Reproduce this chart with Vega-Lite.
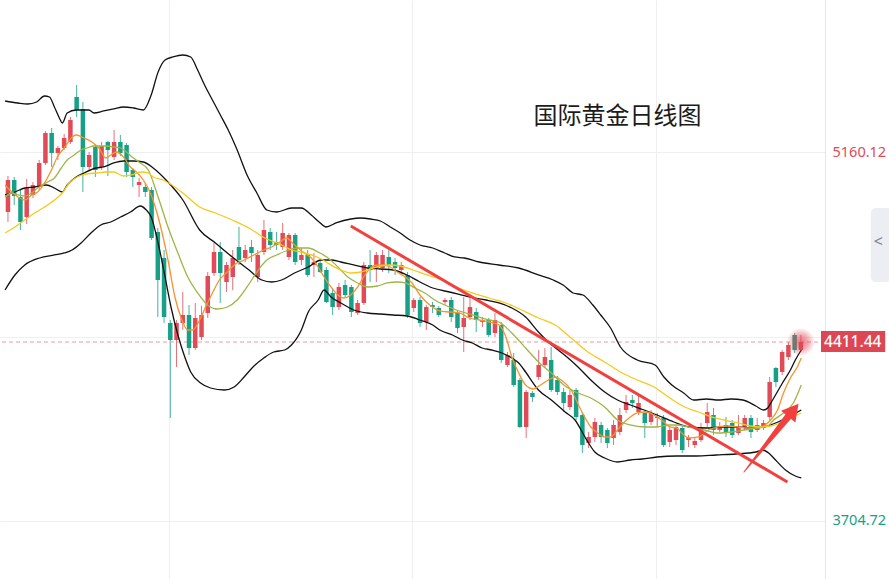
{
  "$schema": "https://vega.github.io/schema/vega-lite/v6.json",
  "width": 825,
  "height": 579,
  "autosize": {"type": "none"},
  "padding": {"left": 0, "top": 0, "right": 64, "bottom": 0},
  "background": "white",
  "config": {"view": {"stroke": null}},
  "datasets": {
    "candles": [
      {"i":0,"o":4925.0,"c":5051.4,"h":5067.2,"l":4885.5},
      {"i":1,"o":5051.4,"c":4988.2,"h":5063.3,"l":4952.7},
      {"i":2,"o":4984.3,"c":4885.5,"h":5011.9,"l":4853.9},
      {"i":3,"o":4905.3,"c":5019.8,"h":5055.4,"l":4877.6},
      {"i":4,"o":4992.2,"c":5031.7,"h":5043.5,"l":4980.3},
      {"i":5,"o":5023.8,"c":5118.6,"h":5130.4,"l":5011.9},
      {"i":6,"o":5118.6,"c":5237.1,"h":5245.0,"l":5110.7},
      {"i":7,"o":5237.1,"c":5158.1,"h":5256.8,"l":5102.8},
      {"i":8,"o":5158.1,"c":5177.8,"h":5185.7,"l":5130.4},
      {"i":9,"o":5177.8,"c":5217.3,"h":5233.1,"l":5169.9},
      {"i":10,"o":5201.5,"c":5288.4,"h":5300.3,"l":5193.6},
      {"i":11,"o":5379.3,"c":5327.9,"h":5426.7,"l":5300.3},
      {"i":12,"o":5331.9,"c":5102.8,"h":5359.5,"l":5004.0},
      {"i":13,"o":5102.8,"c":5150.2,"h":5162.0,"l":5090.9},
      {"i":14,"o":5181.8,"c":5090.9,"h":5193.6,"l":5063.3},
      {"i":15,"o":5102.8,"c":5185.7,"h":5201.5,"l":5090.9},
      {"i":16,"o":5201.5,"c":5169.9,"h":5205.5,"l":5067.2},
      {"i":17,"o":5142.3,"c":5201.5,"h":5248.9,"l":5130.4},
      {"i":18,"o":5201.5,"c":5158.1,"h":5229.2,"l":5146.2},
      {"i":19,"o":5189.7,"c":5083.0,"h":5197.6,"l":5063.3},
      {"i":20,"o":5090.9,"c":5063.3,"h":5098.8,"l":5023.8},
      {"i":21,"o":5031.7,"c":5043.5,"h":5059.3,"l":4984.3},
      {"i":22,"o":5023.8,"c":5004.0,"h":5039.6,"l":4984.3},
      {"i":23,"o":5011.9,"c":4822.3,"h":5023.8,"l":4814.4},
      {"i":24,"o":4846.0,"c":4656.4,"h":4861.8,"l":4510.3},
      {"i":25,"o":4743.3,"c":4510.3,"h":4774.9,"l":4486.6},
      {"i":26,"o":4486.6,"c":4419.4,"h":4498.4,"l":4111.3},
      {"i":27,"o":4419.4,"c":4486.6,"h":4498.4,"l":4312.8},
      {"i":28,"o":4486.6,"c":4518.2,"h":4609.0,"l":4458.9},
      {"i":29,"o":4518.2,"c":4387.8,"h":4557.7,"l":4360.2},
      {"i":30,"o":4387.8,"c":4506.3,"h":4565.6,"l":4379.9},
      {"i":31,"o":4431.3,"c":4518.2,"h":4553.7,"l":4419.4},
      {"i":32,"o":4526.1,"c":4672.2,"h":4688.0,"l":4506.3},
      {"i":33,"o":4684.1,"c":4767.0,"h":4802.6,"l":4672.2},
      {"i":34,"o":4767.0,"c":4684.1,"h":4806.5,"l":4565.6},
      {"i":35,"o":4648.5,"c":4715.7,"h":4727.5,"l":4609.0},
      {"i":36,"o":4668.3,"c":4743.3,"h":4774.9,"l":4616.9},
      {"i":37,"o":4786.8,"c":4735.4,"h":4865.8,"l":4715.7},
      {"i":38,"o":4743.3,"c":4774.9,"h":4794.7,"l":4727.5},
      {"i":39,"o":4786.8,"c":4763.1,"h":4814.4,"l":4727.5},
      {"i":40,"o":4668.3,"c":4755.2,"h":4774.9,"l":4648.5},
      {"i":41,"o":4767.0,"c":4853.9,"h":4893.4,"l":4755.2},
      {"i":42,"o":4846.0,"c":4794.7,"h":4861.8,"l":4774.9},
      {"i":43,"o":4806.5,"c":4794.7,"h":4846.0,"l":4774.9},
      {"i":44,"o":4786.8,"c":4842.1,"h":4881.6,"l":4774.9},
      {"i":45,"o":4747.3,"c":4834.2,"h":4842.1,"l":4735.4},
      {"i":46,"o":4834.2,"c":4727.5,"h":4842.1,"l":4715.7},
      {"i":47,"o":4735.4,"c":4755.2,"h":4782.8,"l":4715.7},
      {"i":48,"o":4755.2,"c":4676.2,"h":4774.9,"l":4668.3},
      {"i":49,"o":4715.7,"c":4727.5,"h":4763.1,"l":4668.3},
      {"i":50,"o":4723.6,"c":4688.0,"h":4735.4,"l":4684.1},
      {"i":51,"o":4695.9,"c":4569.5,"h":4707.8,"l":4565.6},
      {"i":52,"o":4605.1,"c":4549.8,"h":4624.8,"l":4518.2},
      {"i":53,"o":4549.8,"c":4628.8,"h":4644.6,"l":4537.9},
      {"i":54,"o":4636.7,"c":4597.2,"h":4656.4,"l":4585.3},
      {"i":55,"o":4628.8,"c":4530.0,"h":4636.7,"l":4510.3},
      {"i":56,"o":4526.1,"c":4565.6,"h":4577.4,"l":4518.2},
      {"i":57,"o":4565.6,"c":4715.7,"h":4727.5,"l":4557.7},
      {"i":58,"o":4715.7,"c":4695.9,"h":4774.9,"l":4648.5},
      {"i":59,"o":4703.8,"c":4755.2,"h":4767.0,"l":4648.5},
      {"i":60,"o":4703.8,"c":4755.2,"h":4774.9,"l":4688.0},
      {"i":61,"o":4747.3,"c":4715.7,"h":4774.9,"l":4684.1},
      {"i":62,"o":4727.5,"c":4703.8,"h":4743.3,"l":4676.2},
      {"i":63,"o":4695.9,"c":4715.7,"h":4727.5,"l":4676.2},
      {"i":64,"o":4676.2,"c":4518.2,"h":4688.0,"l":4506.3},
      {"i":65,"o":4545.8,"c":4577.4,"h":4585.3,"l":4530.0},
      {"i":66,"o":4577.4,"c":4486.6,"h":4589.3,"l":4470.8},
      {"i":67,"o":4490.5,"c":4549.8,"h":4557.7,"l":4458.9},
      {"i":68,"o":4557.7,"c":4549.8,"h":4569.5,"l":4526.1},
      {"i":69,"o":4545.8,"c":4518.2,"h":4553.7,"l":4510.3},
      {"i":70,"o":4569.5,"c":4577.4,"h":4585.3,"l":4557.7},
      {"i":71,"o":4577.4,"c":4510.3,"h":4589.3,"l":4490.5},
      {"i":72,"o":4526.1,"c":4466.8,"h":4537.9,"l":4447.1},
      {"i":73,"o":4470.8,"c":4506.3,"h":4589.3,"l":4372.0},
      {"i":74,"o":4510.3,"c":4549.8,"h":4589.3,"l":4498.4},
      {"i":75,"o":4530.0,"c":4498.4,"h":4545.8,"l":4451.0},
      {"i":76,"o":4490.5,"c":4498.4,"h":4510.3,"l":4470.8},
      {"i":77,"o":4498.4,"c":4439.2,"h":4506.3,"l":4431.3},
      {"i":78,"o":4447.1,"c":4498.4,"h":4526.1,"l":4431.3},
      {"i":79,"o":4478.7,"c":4340.4,"h":4490.5,"l":4328.6},
      {"i":80,"o":4320.7,"c":4360.2,"h":4372.0,"l":4312.8},
      {"i":81,"o":4340.4,"c":4241.7,"h":4368.1,"l":4233.8},
      {"i":82,"o":4261.4,"c":4075.8,"h":4269.3,"l":4071.8},
      {"i":83,"o":4075.8,"c":4214.0,"h":4221.9,"l":4032.3},
      {"i":84,"o":4210.1,"c":4194.3,"h":4218.0,"l":4174.5},
      {"i":85,"o":4273.3,"c":4320.7,"h":4379.9,"l":4261.4},
      {"i":86,"o":4320.7,"c":4352.3,"h":4387.8,"l":4312.8},
      {"i":87,"o":4340.4,"c":4221.9,"h":4391.8,"l":4214.0},
      {"i":88,"o":4261.4,"c":4214.0,"h":4277.2,"l":4202.2},
      {"i":89,"o":4214.0,"c":4170.6,"h":4229.8,"l":4135.0},
      {"i":90,"o":4154.8,"c":4202.2,"h":4221.9,"l":4142.9},
      {"i":91,"o":4221.9,"c":4115.3,"h":4229.8,"l":4103.4},
      {"i":92,"o":4123.2,"c":4004.7,"h":4135.0,"l":3973.1},
      {"i":93,"o":4012.6,"c":4036.3,"h":4056.0,"l":3992.8},
      {"i":94,"o":4036.3,"c":4095.5,"h":4111.3,"l":4016.5},
      {"i":95,"o":4083.7,"c":4036.3,"h":4095.5,"l":4012.6},
      {"i":96,"o":4063.9,"c":4012.6,"h":4071.8,"l":3992.8},
      {"i":97,"o":4032.3,"c":4083.7,"h":4103.4,"l":4004.7},
      {"i":98,"o":4056.0,"c":4123.2,"h":4150.8,"l":4044.2},
      {"i":99,"o":4142.9,"c":4174.5,"h":4202.2,"l":4131.1},
      {"i":100,"o":4182.4,"c":4170.6,"h":4202.2,"l":4150.8},
      {"i":101,"o":4135.0,"c":4170.6,"h":4202.2,"l":4123.2},
      {"i":102,"o":4131.1,"c":4091.6,"h":4139.0,"l":4032.3},
      {"i":103,"o":4095.5,"c":4131.1,"h":4142.9,"l":4083.7},
      {"i":104,"o":4111.3,"c":4115.3,"h":4131.1,"l":4075.8},
      {"i":105,"o":4111.3,"c":4004.7,"h":4123.2,"l":3996.8},
      {"i":106,"o":4016.5,"c":4063.9,"h":4075.8,"l":3996.8},
      {"i":107,"o":4024.4,"c":4075.8,"h":4083.7,"l":4004.7},
      {"i":108,"o":4071.8,"c":3984.9,"h":4083.7,"l":3973.1},
      {"i":109,"o":4024.4,"c":4032.3,"h":4044.2,"l":3996.8},
      {"i":110,"o":4004.7,"c":4020.5,"h":4032.3,"l":3992.8},
      {"i":111,"o":4024.4,"c":4071.8,"h":4091.6,"l":4016.5},
      {"i":112,"o":4091.6,"c":4135.0,"h":4170.6,"l":4075.8},
      {"i":113,"o":4123.2,"c":4063.9,"h":4150.8,"l":4044.2},
      {"i":114,"o":4063.9,"c":4075.8,"h":4095.5,"l":4056.0},
      {"i":115,"o":4083.7,"c":4052.1,"h":4115.3,"l":4036.3},
      {"i":116,"o":4091.6,"c":4044.2,"h":4103.4,"l":4032.3},
      {"i":117,"o":4052.1,"c":4075.8,"h":4123.2,"l":4044.2},
      {"i":118,"o":4075.8,"c":4111.3,"h":4123.2,"l":4063.9},
      {"i":119,"o":4111.3,"c":4056.0,"h":4123.2,"l":4032.3},
      {"i":120,"o":4063.9,"c":4083.7,"h":4111.3,"l":4056.0},
      {"i":121,"o":4071.8,"c":4091.6,"h":4103.4,"l":4063.9},
      {"i":122,"o":4115.3,"c":4253.5,"h":4273.3,"l":4103.4},
      {"i":123,"o":4308.8,"c":4253.5,"h":4312.8,"l":4233.8},
      {"i":124,"o":4293.0,"c":4372.0,"h":4379.9,"l":4281.2},
      {"i":125,"o":4352.3,"c":4399.7,"h":4411.5,"l":4340.4},
      {"i":126,"o":4439.2,"c":4379.9,"h":4447.1,"l":4368.1},
      {"i":127,"o":4379.9,"c":4411.44,"h":4439.2,"l":4372.0}
    ],
    "lines": [
      {"s":"up","i":-0.47,"v":5363.5},{"s":"up","i":1.58,"v":5355.6},{"s":"up","i":3.16,"v":5351.6},{"s":"up","i":4.59,"v":5359.5},{"s":"up","i":5.85,"v":5383.2},{"s":"up","i":6.65,"v":5379.3},{"s":"up","i":7.44,"v":5339.8},{"s":"up","i":8.23,"v":5296.3},{"s":"up","i":8.7,"v":5276.6},{"s":"up","i":9.49,"v":5316.1},{"s":"up","i":10.92,"v":5327.9},{"s":"up","i":12.97,"v":5327.9},{"s":"up","i":13.77,"v":5316.1},{"s":"up","i":15.35,"v":5324.0},{"s":"up","i":16.93,"v":5331.9},{"s":"up","i":18.51,"v":5339.8},{"s":"up","i":20.09,"v":5335.8},{"s":"up","i":21.68,"v":5327.9},{"s":"up","i":22.94,"v":5387.2},{"s":"up","i":24.05,"v":5478.0},{"s":"up","i":25.16,"v":5525.4},{"s":"up","i":26.42,"v":5537.3},{"s":"up","i":28.01,"v":5545.2},{"s":"up","i":29.27,"v":5537.3},{"s":"up","i":30.38,"v":5485.9},{"s":"up","i":31.49,"v":5426.7},{"s":"up","i":32.75,"v":5367.4},{"s":"up","i":34.02,"v":5308.2},{"s":"up","i":35.28,"v":5248.9},{"s":"up","i":36.71,"v":5169.9},{"s":"up","i":38.29,"v":5071.2},{"s":"up","i":39.87,"v":5000.1},{"s":"up","i":41.46,"v":4932.9},{"s":"up","i":43.04,"v":4925.0},{"s":"up","i":45.41,"v":4940.8},{"s":"up","i":46.99,"v":4940.8},{"s":"up","i":48.58,"v":4913.2},{"s":"up","i":49.84,"v":4885.5},{"s":"up","i":50.95,"v":4865.8},{"s":"up","i":52.53,"v":4881.6},{"s":"up","i":54.91,"v":4897.4},{"s":"up","i":56.49,"v":4901.3},{"s":"up","i":58.07,"v":4897.4},{"s":"up","i":59.65,"v":4889.5},{"s":"up","i":61.23,"v":4865.8},{"s":"up","i":62.82,"v":4842.1},{"s":"up","i":64.4,"v":4814.4},{"s":"up","i":65.98,"v":4794.7},{"s":"up","i":68.04,"v":4782.8},{"s":"up","i":69.94,"v":4763.1},{"s":"up","i":71.52,"v":4747.3},{"s":"up","i":73.1,"v":4743.3},{"s":"up","i":75.47,"v":4727.5},{"s":"up","i":78.64,"v":4715.7},{"s":"up","i":81.8,"v":4703.8},{"s":"up","i":84.97,"v":4676.2},{"s":"up","i":87.34,"v":4656.4},{"s":"up","i":88.92,"v":4636.7},{"s":"up","i":90.51,"v":4605.1},{"s":"up","i":92.09,"v":4597.2},{"s":"up","i":93.67,"v":4557.7},{"s":"up","i":94.94,"v":4518.2},{"s":"up","i":96.52,"v":4466.8},{"s":"up","i":98.1,"v":4391.8},{"s":"up","i":100.79,"v":4340.4},{"s":"up","i":103.64,"v":4320.7},{"s":"up","i":105.06,"v":4273.3},{"s":"up","i":106.33,"v":4241.7},{"s":"up","i":108.23,"v":4210.1},{"s":"up","i":109.81,"v":4182.4},{"s":"up","i":111.87,"v":4186.4},{"s":"up","i":113.77,"v":4182.4},{"s":"up","i":115.82,"v":4186.4},{"s":"up","i":117.72,"v":4182.4},{"s":"up","i":119.78,"v":4158.7},{"s":"up","i":121.04,"v":4142.9},{"s":"up","i":121.68,"v":4150.8},{"s":"up","i":122.47,"v":4182.4},{"s":"up","i":124.05,"v":4249.6},{"s":"up","i":125.32,"v":4300.9},{"s":"up","i":126.11,"v":4340.4},{"s":"up","i":127.06,"v":4379.9},
      {"s":"mid","i":-0.47,"v":4992.2},{"s":"mid","i":1.11,"v":5004.0},{"s":"mid","i":2.69,"v":5019.8},{"s":"mid","i":4.27,"v":5023.8},{"s":"mid","i":6.17,"v":5031.7},{"s":"mid","i":7.44,"v":5019.8},{"s":"mid","i":8.7,"v":5004.0},{"s":"mid","i":9.49,"v":5031.7},{"s":"mid","i":10.92,"v":5063.3},{"s":"mid","i":12.18,"v":5079.1},{"s":"mid","i":14.08,"v":5098.8},{"s":"mid","i":15.35,"v":5102.8},{"s":"mid","i":16.93,"v":5118.6},{"s":"mid","i":18.51,"v":5126.5},{"s":"mid","i":20.09,"v":5126.5},{"s":"mid","i":21.68,"v":5122.5},{"s":"mid","i":23.26,"v":5098.8},{"s":"mid","i":25.32,"v":5051.4},{"s":"mid","i":28.01,"v":4972.4},{"s":"mid","i":30.7,"v":4853.9},{"s":"mid","i":33.23,"v":4802.6},{"s":"mid","i":35.92,"v":4747.3},{"s":"mid","i":38.61,"v":4695.9},{"s":"mid","i":40.66,"v":4656.4},{"s":"mid","i":42.25,"v":4648.5},{"s":"mid","i":43.83,"v":4656.4},{"s":"mid","i":45.89,"v":4684.1},{"s":"mid","i":48.1,"v":4707.8},{"s":"mid","i":50.16,"v":4735.4},{"s":"mid","i":51.74,"v":4735.4},{"s":"mid","i":53.32,"v":4727.5},{"s":"mid","i":55.38,"v":4715.7},{"s":"mid","i":57.59,"v":4703.8},{"s":"mid","i":59.65,"v":4699.9},{"s":"mid","i":61.71,"v":4695.9},{"s":"mid","i":63.92,"v":4676.2},{"s":"mid","i":65.98,"v":4648.5},{"s":"mid","i":68.04,"v":4624.8},{"s":"mid","i":70.73,"v":4609.0},{"s":"mid","i":73.89,"v":4589.3},{"s":"mid","i":76.58,"v":4577.4},{"s":"mid","i":78.64,"v":4565.6},{"s":"mid","i":80.7,"v":4545.8},{"s":"mid","i":82.91,"v":4510.3},{"s":"mid","i":84.97,"v":4451.0},{"s":"mid","i":86.55,"v":4411.5},{"s":"mid","i":88.13,"v":4379.9},{"s":"mid","i":89.72,"v":4348.3},{"s":"mid","i":91.3,"v":4312.8},{"s":"mid","i":93.35,"v":4261.4},{"s":"mid","i":95.57,"v":4214.0},{"s":"mid","i":97.63,"v":4182.4},{"s":"mid","i":99.68,"v":4162.7},{"s":"mid","i":101.9,"v":4142.9},{"s":"mid","i":103.96,"v":4123.2},{"s":"mid","i":106.65,"v":4095.5},{"s":"mid","i":109.18,"v":4075.8},{"s":"mid","i":111.87,"v":4071.8},{"s":"mid","i":114.56,"v":4075.8},{"s":"mid","i":116.93,"v":4075.8},{"s":"mid","i":118.99,"v":4071.8},{"s":"mid","i":121.04,"v":4075.8},{"s":"mid","i":122.94,"v":4091.6},{"s":"mid","i":125.0,"v":4115.3},{"s":"mid","i":127.06,"v":4142.9},
      {"s":"low","i":-0.47,"v":4616.9},{"s":"low","i":1.11,"v":4676.2},{"s":"low","i":2.69,"v":4715.7},{"s":"low","i":5.06,"v":4743.3},{"s":"low","i":7.44,"v":4755.2},{"s":"low","i":9.02,"v":4763.1},{"s":"low","i":10.28,"v":4774.9},{"s":"low","i":11.71,"v":4802.6},{"s":"low","i":13.29,"v":4842.1},{"s":"low","i":14.87,"v":4873.7},{"s":"low","i":16.46,"v":4885.5},{"s":"low","i":18.04,"v":4905.3},{"s":"low","i":19.62,"v":4925.0},{"s":"low","i":21.2,"v":4948.7},{"s":"low","i":22.15,"v":4932.9},{"s":"low","i":22.94,"v":4905.3},{"s":"low","i":24.05,"v":4802.6},{"s":"low","i":25.16,"v":4668.3},{"s":"low","i":26.11,"v":4549.8},{"s":"low","i":27.22,"v":4439.2},{"s":"low","i":28.32,"v":4352.3},{"s":"low","i":29.27,"v":4293.0},{"s":"low","i":30.85,"v":4249.6},{"s":"low","i":32.44,"v":4229.8},{"s":"low","i":34.65,"v":4221.9},{"s":"low","i":36.23,"v":4233.8},{"s":"low","i":37.82,"v":4273.3},{"s":"low","i":39.4,"v":4316.7},{"s":"low","i":40.98,"v":4348.3},{"s":"low","i":42.56,"v":4372.0},{"s":"low","i":44.3,"v":4379.9},{"s":"low","i":45.41,"v":4399.7},{"s":"low","i":46.99,"v":4458.9},{"s":"low","i":48.1,"v":4530.0},{"s":"low","i":49.68,"v":4577.4},{"s":"low","i":50.63,"v":4616.9},{"s":"low","i":51.74,"v":4589.3},{"s":"low","i":53.32,"v":4565.6},{"s":"low","i":55.38,"v":4537.9},{"s":"low","i":57.59,"v":4526.1},{"s":"low","i":59.65,"v":4522.1},{"s":"low","i":61.71,"v":4518.2},{"s":"low","i":63.92,"v":4514.2},{"s":"low","i":65.98,"v":4498.4},{"s":"low","i":68.04,"v":4478.7},{"s":"low","i":69.15,"v":4458.9},{"s":"low","i":71.2,"v":4439.2},{"s":"low","i":72.78,"v":4419.4},{"s":"low","i":74.37,"v":4407.6},{"s":"low","i":75.95,"v":4387.8},{"s":"low","i":77.53,"v":4379.9},{"s":"low","i":79.11,"v":4368.1},{"s":"low","i":80.7,"v":4348.3},{"s":"low","i":81.8,"v":4328.6},{"s":"low","i":82.91,"v":4293.0},{"s":"low","i":84.97,"v":4221.9},{"s":"low","i":87.03,"v":4182.4},{"s":"low","i":89.24,"v":4135.0},{"s":"low","i":90.82,"v":4103.4},{"s":"low","i":92.41,"v":4036.3},{"s":"low","i":93.99,"v":3977.0},{"s":"low","i":95.57,"v":3953.3},{"s":"low","i":97.63,"v":3937.5},{"s":"low","i":99.68,"v":3945.4},{"s":"low","i":101.58,"v":3949.4},{"s":"low","i":103.96,"v":3957.3},{"s":"low","i":107.12,"v":3961.2},{"s":"low","i":110.28,"v":3961.2},{"s":"low","i":113.45,"v":3965.2},{"s":"low","i":116.61,"v":3969.1},{"s":"low","i":119.78,"v":3977.0},{"s":"low","i":120.89,"v":3984.9},{"s":"low","i":121.84,"v":3973.1},{"s":"low","i":122.94,"v":3945.4},{"s":"low","i":124.53,"v":3905.9},{"s":"low","i":126.11,"v":3882.2},{"s":"low","i":127.06,"v":3874.3},
      {"s":"ma5","i":-0.47,"v":5031.7},{"s":"ma5","i":0.63,"v":5004.0},{"s":"ma5","i":1.58,"v":4984.3},{"s":"ma5","i":2.69,"v":4972.4},{"s":"ma5","i":3.8,"v":4992.2},{"s":"ma5","i":4.75,"v":5004.0},{"s":"ma5","i":5.85,"v":5039.6},{"s":"ma5","i":6.96,"v":5090.9},{"s":"ma5","i":7.91,"v":5142.3},{"s":"ma5","i":9.02,"v":5177.8},{"s":"ma5","i":10.28,"v":5221.2},{"s":"ma5","i":10.92,"v":5229.2},{"s":"ma5","i":12.18,"v":5217.3},{"s":"ma5","i":13.45,"v":5201.5},{"s":"ma5","i":14.56,"v":5177.8},{"s":"ma5","i":15.66,"v":5138.3},{"s":"ma5","i":16.46,"v":5150.2},{"s":"ma5","i":17.41,"v":5162.0},{"s":"ma5","i":18.51,"v":5142.3},{"s":"ma5","i":19.62,"v":5102.8},{"s":"ma5","i":20.57,"v":5083.0},{"s":"ma5","i":21.68,"v":5051.4},{"s":"ma5","i":22.94,"v":4992.2},{"s":"ma5","i":24.05,"v":4905.3},{"s":"ma5","i":25.63,"v":4735.4},{"s":"ma5","i":26.74,"v":4589.3},{"s":"ma5","i":27.69,"v":4510.3},{"s":"ma5","i":28.8,"v":4458.9},{"s":"ma5","i":29.59,"v":4458.9},{"s":"ma5","i":30.7,"v":4498.4},{"s":"ma5","i":31.65,"v":4549.8},{"s":"ma5","i":32.75,"v":4605.1},{"s":"ma5","i":33.86,"v":4656.4},{"s":"ma5","i":35.13,"v":4688.0},{"s":"ma5","i":36.23,"v":4715.7},{"s":"ma5","i":37.82,"v":4735.4},{"s":"ma5","i":39.4,"v":4755.2},{"s":"ma5","i":40.98,"v":4774.9},{"s":"ma5","i":42.25,"v":4786.8},{"s":"ma5","i":43.35,"v":4802.6},{"s":"ma5","i":44.62,"v":4822.3},{"s":"ma5","i":45.89,"v":4794.7},{"s":"ma5","i":47.47,"v":4763.1},{"s":"ma5","i":48.58,"v":4743.3},{"s":"ma5","i":49.68,"v":4707.8},{"s":"ma5","i":50.63,"v":4668.3},{"s":"ma5","i":51.74,"v":4628.8},{"s":"ma5","i":52.85,"v":4597.2},{"s":"ma5","i":53.8,"v":4585.3},{"s":"ma5","i":54.91,"v":4597.2},{"s":"ma5","i":56.01,"v":4628.8},{"s":"ma5","i":56.96,"v":4668.3},{"s":"ma5","i":58.07,"v":4703.8},{"s":"ma5","i":59.18,"v":4715.7},{"s":"ma5","i":60.13,"v":4715.7},{"s":"ma5","i":61.23,"v":4707.8},{"s":"ma5","i":62.34,"v":4688.0},{"s":"ma5","i":63.61,"v":4668.3},{"s":"ma5","i":64.72,"v":4644.6},{"s":"ma5","i":65.98,"v":4597.2},{"s":"ma5","i":67.56,"v":4557.7},{"s":"ma5","i":69.15,"v":4534.0},{"s":"ma5","i":70.73,"v":4530.0},{"s":"ma5","i":72.31,"v":4526.1},{"s":"ma5","i":73.89,"v":4506.3},{"s":"ma5","i":75.47,"v":4498.4},{"s":"ma5","i":77.06,"v":4490.5},{"s":"ma5","i":78.64,"v":4478.7},{"s":"ma5","i":79.75,"v":4431.3},{"s":"ma5","i":80.7,"v":4352.3},{"s":"ma5","i":81.8,"v":4289.1},{"s":"ma5","i":82.91,"v":4241.7},{"s":"ma5","i":84.18,"v":4225.9},{"s":"ma5","i":85.28,"v":4241.7},{"s":"ma5","i":86.55,"v":4261.4},{"s":"ma5","i":87.66,"v":4273.3},{"s":"ma5","i":88.61,"v":4261.4},{"s":"ma5","i":90.19,"v":4221.9},{"s":"ma5","i":91.77,"v":4142.9},{"s":"ma5","i":93.35,"v":4075.8},{"s":"ma5","i":94.46,"v":4052.1},{"s":"ma5","i":95.57,"v":4036.3},{"s":"ma5","i":96.52,"v":4036.3},{"s":"ma5","i":97.63,"v":4063.9},{"s":"ma5","i":98.73,"v":4095.5},{"s":"ma5","i":99.68,"v":4115.3},{"s":"ma5","i":100.79,"v":4131.1},{"s":"ma5","i":101.9,"v":4135.0},{"s":"ma5","i":102.85,"v":4131.1},{"s":"ma5","i":103.96,"v":4115.3},{"s":"ma5","i":105.06,"v":4095.5},{"s":"ma5","i":106.01,"v":4075.8},{"s":"ma5","i":107.12,"v":4071.8},{"s":"ma5","i":107.91,"v":4052.1},{"s":"ma5","i":109.02,"v":4032.3},{"s":"ma5","i":110.6,"v":4036.3},{"s":"ma5","i":112.18,"v":4063.9},{"s":"ma5","i":113.77,"v":4075.8},{"s":"ma5","i":115.35,"v":4079.7},{"s":"ma5","i":116.93,"v":4075.8},{"s":"ma5","i":118.51,"v":4071.8},{"s":"ma5","i":120.09,"v":4071.8},{"s":"ma5","i":121.04,"v":4079.7},{"s":"ma5","i":122.15,"v":4103.4},{"s":"ma5","i":123.26,"v":4142.9},{"s":"ma5","i":124.21,"v":4210.1},{"s":"ma5","i":125.32,"v":4269.3},{"s":"ma5","i":126.42,"v":4312.8},{"s":"ma5","i":127.06,"v":4348.3},
      {"s":"ma10","i":-0.47,"v":4984.3},{"s":"ma10","i":0.63,"v":5000.1},{"s":"ma10","i":1.58,"v":4992.2},{"s":"ma10","i":2.69,"v":4988.2},{"s":"ma10","i":3.8,"v":5000.1},{"s":"ma10","i":4.75,"v":5019.8},{"s":"ma10","i":6.33,"v":5043.5},{"s":"ma10","i":7.44,"v":5059.3},{"s":"ma10","i":8.54,"v":5098.8},{"s":"ma10","i":9.49,"v":5130.4},{"s":"ma10","i":10.6,"v":5150.2},{"s":"ma10","i":11.71,"v":5169.9},{"s":"ma10","i":12.66,"v":5177.8},{"s":"ma10","i":13.77,"v":5185.7},{"s":"ma10","i":15.82,"v":5185.7},{"s":"ma10","i":16.93,"v":5181.8},{"s":"ma10","i":18.04,"v":5177.8},{"s":"ma10","i":18.99,"v":5162.0},{"s":"ma10","i":20.09,"v":5138.3},{"s":"ma10","i":21.2,"v":5118.6},{"s":"ma10","i":22.47,"v":5090.9},{"s":"ma10","i":24.05,"v":4984.3},{"s":"ma10","i":25.63,"v":4865.8},{"s":"ma10","i":27.22,"v":4763.1},{"s":"ma10","i":28.8,"v":4668.3},{"s":"ma10","i":30.38,"v":4605.1},{"s":"ma10","i":31.96,"v":4557.7},{"s":"ma10","i":33.54,"v":4541.9},{"s":"ma10","i":35.13,"v":4549.8},{"s":"ma10","i":36.71,"v":4577.4},{"s":"ma10","i":38.29,"v":4628.8},{"s":"ma10","i":39.87,"v":4688.0},{"s":"ma10","i":41.46,"v":4735.4},{"s":"ma10","i":43.04,"v":4755.2},{"s":"ma10","i":44.94,"v":4774.9},{"s":"ma10","i":46.52,"v":4782.8},{"s":"ma10","i":48.1,"v":4782.8},{"s":"ma10","i":49.68,"v":4767.0},{"s":"ma10","i":51.27,"v":4743.3},{"s":"ma10","i":52.85,"v":4707.8},{"s":"ma10","i":54.43,"v":4668.3},{"s":"ma10","i":56.01,"v":4644.6},{"s":"ma10","i":57.59,"v":4628.8},{"s":"ma10","i":59.18,"v":4632.7},{"s":"ma10","i":60.76,"v":4644.6},{"s":"ma10","i":62.34,"v":4648.5},{"s":"ma10","i":63.61,"v":4644.6},{"s":"ma10","i":65.19,"v":4624.8},{"s":"ma10","i":66.77,"v":4605.1},{"s":"ma10","i":68.35,"v":4577.4},{"s":"ma10","i":69.94,"v":4557.7},{"s":"ma10","i":71.84,"v":4537.9},{"s":"ma10","i":74.37,"v":4518.2},{"s":"ma10","i":77.06,"v":4498.4},{"s":"ma10","i":78.64,"v":4490.5},{"s":"ma10","i":80.7,"v":4447.1},{"s":"ma10","i":82.91,"v":4387.8},{"s":"ma10","i":84.97,"v":4332.5},{"s":"ma10","i":87.03,"v":4289.1},{"s":"ma10","i":89.24,"v":4237.7},{"s":"ma10","i":91.3,"v":4210.1},{"s":"ma10","i":93.35,"v":4190.3},{"s":"ma10","i":95.57,"v":4154.8},{"s":"ma10","i":97.63,"v":4103.4},{"s":"ma10","i":99.68,"v":4083.7},{"s":"ma10","i":101.9,"v":4075.8},{"s":"ma10","i":103.96,"v":4075.8},{"s":"ma10","i":106.01,"v":4083.7},{"s":"ma10","i":107.12,"v":4083.7},{"s":"ma10","i":109.02,"v":4075.8},{"s":"ma10","i":111.55,"v":4063.9},{"s":"ma10","i":113.77,"v":4052.1},{"s":"ma10","i":115.82,"v":4056.0},{"s":"ma10","i":117.88,"v":4063.9},{"s":"ma10","i":120.09,"v":4071.8},{"s":"ma10","i":121.68,"v":4079.7},{"s":"ma10","i":122.63,"v":4103.4},{"s":"ma10","i":124.21,"v":4131.1},{"s":"ma10","i":125.79,"v":4170.6},{"s":"ma10","i":127.06,"v":4241.7},
      {"s":"ma30","i":-0.47,"v":4842.1},{"s":"ma30","i":1.11,"v":4865.8},{"s":"ma30","i":2.69,"v":4893.4},{"s":"ma30","i":4.27,"v":4921.1},{"s":"ma30","i":5.85,"v":4944.8},{"s":"ma30","i":7.44,"v":4972.4},{"s":"ma30","i":8.7,"v":5000.1},{"s":"ma30","i":9.81,"v":5039.6},{"s":"ma30","i":11.08,"v":5063.3},{"s":"ma30","i":12.66,"v":5075.1},{"s":"ma30","i":14.24,"v":5079.1},{"s":"ma30","i":15.66,"v":5083.0},{"s":"ma30","i":16.93,"v":5083.0},{"s":"ma30","i":18.51,"v":5067.2},{"s":"ma30","i":19.78,"v":5071.2},{"s":"ma30","i":21.2,"v":5083.0},{"s":"ma30","i":22.47,"v":5079.1},{"s":"ma30","i":23.26,"v":5063.3},{"s":"ma30","i":24.84,"v":5051.4},{"s":"ma30","i":28.01,"v":5000.1},{"s":"ma30","i":30.7,"v":4944.8},{"s":"ma30","i":33.23,"v":4921.1},{"s":"ma30","i":35.92,"v":4893.4},{"s":"ma30","i":38.61,"v":4861.8},{"s":"ma30","i":41.14,"v":4822.3},{"s":"ma30","i":43.83,"v":4794.7},{"s":"ma30","i":45.41,"v":4774.9},{"s":"ma30","i":46.99,"v":4767.0},{"s":"ma30","i":48.58,"v":4755.2},{"s":"ma30","i":50.16,"v":4739.4},{"s":"ma30","i":51.74,"v":4715.7},{"s":"ma30","i":53.32,"v":4695.9},{"s":"ma30","i":54.91,"v":4684.1},{"s":"ma30","i":56.49,"v":4688.0},{"s":"ma30","i":58.07,"v":4699.9},{"s":"ma30","i":59.65,"v":4711.7},{"s":"ma30","i":61.23,"v":4715.7},{"s":"ma30","i":62.82,"v":4711.7},{"s":"ma30","i":64.87,"v":4695.9},{"s":"ma30","i":67.09,"v":4676.2},{"s":"ma30","i":69.15,"v":4660.4},{"s":"ma30","i":71.84,"v":4628.8},{"s":"ma30","i":74.37,"v":4605.1},{"s":"ma30","i":77.06,"v":4585.3},{"s":"ma30","i":79.75,"v":4565.6},{"s":"ma30","i":82.28,"v":4537.9},{"s":"ma30","i":84.97,"v":4506.3},{"s":"ma30","i":87.66,"v":4478.7},{"s":"ma30","i":90.19,"v":4427.3},{"s":"ma30","i":92.88,"v":4372.0},{"s":"ma30","i":95.57,"v":4332.5},{"s":"ma30","i":98.1,"v":4293.0},{"s":"ma30","i":100.79,"v":4261.4},{"s":"ma30","i":103.48,"v":4233.8},{"s":"ma30","i":106.01,"v":4190.3},{"s":"ma30","i":108.39,"v":4154.8},{"s":"ma30","i":110.6,"v":4135.0},{"s":"ma30","i":112.66,"v":4115.3},{"s":"ma30","i":114.72,"v":4103.4},{"s":"ma30","i":116.93,"v":4091.6},{"s":"ma30","i":118.99,"v":4079.7},{"s":"ma30","i":120.57,"v":4075.8},{"s":"ma30","i":122.15,"v":4079.7},{"s":"ma30","i":123.73,"v":4091.6},{"s":"ma30","i":125.32,"v":4111.3},{"s":"ma30","i":127.06,"v":4131.1}
    ]
  },
  "layer": [
    {
      "data": {"name": "candles"},
      "mark": {"type": "rule", "strokeWidth": 1, "opacity": 0.8},
      "encoding": {
        "x": {
          "field": "i", "type": "quantitative", "title": null,
          "scale": {"domain": [-0.475, 130.06], "nice": false, "zero": false},
          "axis": {"values": [25.8, 64.75, 103.8], "grid": true, "gridColor": "#efefef", "labels": false, "ticks": false, "domain": false, "title": null}
        },
        "y": {
          "field": "h", "type": "quantitative", "title": null,
          "scale": {"domain": [3475.35, 5762.4], "nice": false, "zero": false},
          "axis": {
            "orient": "right", "values": [3704.72, 4432.42, 5160.12], "format": ".2f", "title": null,
            "grid": true, "gridColor": "#efefef", "ticks": false, "domain": true, "domainColor": "#e6e6e6",
            "labelPadding": 7, "labelFontSize": 14.5, "labelFont": "Noto Sans", "labelAlign": "left", "labelBaseline": "middle",
            "labelExpr": "datum.value > 4000 && datum.value < 5000 ? '' : datum.label",
            "labelColor": {"condition": {"test": "datum.value > 4500", "value": "#dd4b57"}, "value": "#17a088"}
          }
        },
        "y2": {"field": "l"},
        "color": {"condition": {"test": "datum.c >= datum.o", "value": "#e04b57"}, "value": "#16a086"}
      }
    },
    {
      "data": {"values": [{"p": 4411.44}]},
      "mark": {"type": "rule", "color": "#f09a9a", "strokeDash": [4, 3], "strokeWidth": 1},
      "encoding": {
        "y": {"field": "p", "type": "quantitative", "title": null, "scale": {"domain": [3475.35, 5762.4], "nice": false, "zero": false}}
      }
    },
    {
      "data": {"name": "candles"},
      "mark": {"type": "bar", "size": 4.5},
      "encoding": {
        "x": {"field": "i", "type": "quantitative", "title": null, "scale": {"domain": [-0.475, 130.06], "nice": false, "zero": false}},
        "y": {"field": "o", "type": "quantitative", "title": null, "scale": {"domain": [3475.35, 5762.4], "nice": false, "zero": false}},
        "y2": {"field": "c"},
        "color": {"condition": {"test": "datum.c >= datum.o", "value": "#e04b57"}, "value": "#16a086"}
      }
    },
    {
      "data": {"name": "lines"},
      "mark": {"type": "line", "strokeWidth": 1.3, "interpolate": "monotone"},
      "encoding": {
        "x": {"field": "i", "type": "quantitative", "title": null, "scale": {"domain": [-0.475, 130.06], "nice": false, "zero": false}},
        "y": {"field": "v", "type": "quantitative", "title": null, "scale": {"domain": [3475.35, 5762.4], "nice": false, "zero": false}},
        "color": {
          "field": "s", "type": "nominal", "legend": null,
          "scale": {"domain": ["up", "mid", "low", "ma5", "ma10", "ma30"], "range": ["#111111", "#111111", "#111111", "#f7932c", "#9fb545", "#f8c81c"]}
        }
      }
    },
    {
      "data": {"values": [{"i": 54.91, "v": 4869.7}, {"i": 124.84, "v": 3858.5}]},
      "mark": {"type": "line", "color": "#f2403f", "strokeWidth": 3},
      "encoding": {
        "x": {"field": "i", "type": "quantitative", "title": null, "scale": {"domain": [-0.475, 130.06], "nice": false, "zero": false}},
        "y": {"field": "v", "type": "quantitative", "title": null, "scale": {"domain": [3475.35, 5762.4], "nice": false, "zero": false}}
      }
    },
    {
      "data": {"values": [{"i": 117.88, "v": 3898.0}, {"i": 124.98, "v": 4117.2}]},
      "mark": {"type": "trail", "color": "#f2403f"},
      "encoding": {
        "x": {"field": "i", "type": "quantitative", "title": null, "scale": {"domain": [-0.475, 130.06], "nice": false, "zero": false}},
        "y": {"field": "v", "type": "quantitative", "title": null, "scale": {"domain": [3475.35, 5762.4], "nice": false, "zero": false}},
        "size": {"field": "i", "type": "quantitative", "legend": null, "scale": {"domain": [117.88, 124.98], "range": [1, 7]}}
      }
    },
    {
      "data": {"values": [{"i": 125.59, "v": 4135.8}]},
      "mark": {"type": "point", "shape": "M0,-1L0.9,0.6L-0.9,0.6Z", "size": 420, "angle": 39, "filled": true, "opacity": 1, "color": "#f2403f"},
      "encoding": {
        "x": {"field": "i", "type": "quantitative", "title": null, "scale": {"domain": [-0.475, 130.06], "nice": false, "zero": false}},
        "y": {"field": "v", "type": "quantitative", "title": null, "scale": {"domain": [3475.35, 5762.4], "nice": false, "zero": false}}
      }
    },
    {
      "data": {"values": [{"i": 127, "v": 4411.44}]},
      "mark": {
        "type": "point", "shape": "circle", "size": 800, "filled": true, "opacity": 1, "strokeWidth": 0,
        "fill": {"gradient": "radial", "stops": [{"offset": 0, "color": "rgba(226,70,86,0.75)"}, {"offset": 0.5, "color": "rgba(226,70,86,0.45)"}, {"offset": 1, "color": "rgba(226,70,86,0)"}]}
      },
      "encoding": {
        "x": {"field": "i", "type": "quantitative", "title": null, "scale": {"domain": [-0.475, 130.06], "nice": false, "zero": false}},
        "y": {"field": "v", "type": "quantitative", "title": null, "scale": {"domain": [3475.35, 5762.4], "nice": false, "zero": false}}
      }
    },
    {
      "data": {"values": [{"x1": 130.22, "x2": 140.5, "y1": 4454.95, "y2": 4372.0}]},
      "mark": {"type": "rect", "color": "#dc4753"},
      "encoding": {
        "x": {"field": "x1", "type": "quantitative", "title": null, "scale": {"domain": [-0.475, 130.06], "nice": false, "zero": false}},
        "x2": {"field": "x2"},
        "y": {"field": "y1", "type": "quantitative", "title": null, "scale": {"domain": [3475.35, 5762.4], "nice": false, "zero": false}},
        "y2": {"field": "y2"}
      }
    },
    {
      "data": {"values": [{"x": 135.3, "y": 4411.44, "t": "4411.44"}]},
      "mark": {"type": "text", "color": "white", "font": "Noto Sans", "fontSize": 15.5, "fontWeight": 500, "align": "center", "baseline": "middle"},
      "encoding": {
        "x": {"field": "x", "type": "quantitative", "title": null, "scale": {"domain": [-0.475, 130.06], "nice": false, "zero": false}},
        "y": {"field": "y", "type": "quantitative", "title": null, "scale": {"domain": [3475.35, 5762.4], "nice": false, "zero": false}},
        "text": {"field": "t"}
      }
    },
    {
      "data": {"values": [{"x1": 138.2, "x2": 141.5, "y1": 4940.8, "y2": 4648.5}]},
      "mark": {"type": "rect", "color": "#eceef3", "cornerRadius": 5},
      "encoding": {
        "x": {"field": "x1", "type": "quantitative", "title": null, "scale": {"domain": [-0.475, 130.06], "nice": false, "zero": false}},
        "x2": {"field": "x2"},
        "y": {"field": "y1", "type": "quantitative", "title": null, "scale": {"domain": [3475.35, 5762.4], "nice": false, "zero": false}},
        "y2": {"field": "y2"}
      }
    },
    {
      "data": {"values": [{"x": 139.4, "y": 4806.5, "t": "<"}]},
      "mark": {"type": "text", "color": "#80848e", "font": "Noto Sans", "fontSize": 16, "align": "center", "baseline": "middle"},
      "encoding": {
        "x": {"field": "x", "type": "quantitative", "title": null, "scale": {"domain": [-0.475, 130.06], "nice": false, "zero": false}},
        "y": {"field": "y", "type": "quantitative", "title": null, "scale": {"domain": [3475.35, 5762.4], "nice": false, "zero": false}},
        "text": {"field": "t"}
      }
    },
    {
      "data": {"values": [{"x": 84.18, "y": 5300.0, "t": "国际黄金日线图"}]},
      "mark": {"type": "text", "color": "#1c1c1c", "font": "Noto Sans CJK SC", "fontSize": 24, "align": "left", "baseline": "middle"},
      "encoding": {
        "x": {"field": "x", "type": "quantitative", "title": null, "scale": {"domain": [-0.475, 130.06], "nice": false, "zero": false}},
        "y": {"field": "y", "type": "quantitative", "title": null, "scale": {"domain": [3475.35, 5762.4], "nice": false, "zero": false}},
        "text": {"field": "t"}
      }
    }
  ]
}
